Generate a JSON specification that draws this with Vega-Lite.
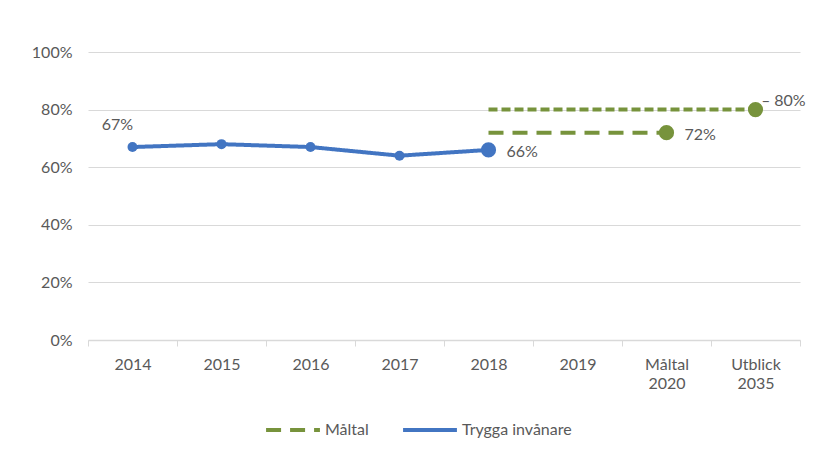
{
  "$schema": "https://vega.github.io/schema/vega-lite/v6.json",
  "width": 712,
  "height": 288,
  "autosize": {"type": "none"},
  "padding": {"left": 88, "top": 52, "right": 20, "bottom": 112},
  "background": "white",
  "config": {
    "view": {"stroke": null},
    "font": "Lato",
    "axis": {"labelFont": "Lato", "labelColor": "#595959", "labelFontSize": 16, "titleFontSize": 0},
    "legend": {"labelFont": "Lato", "labelColor": "#595959", "labelFontSize": 16}
  },
  "data": {
    "values": [
      {"cat": "2014", "value": 0.67, "serie": "Trygga invånare"},
      {"cat": "2015", "value": 0.68, "serie": "Trygga invånare"},
      {"cat": "2016", "value": 0.67, "serie": "Trygga invånare"},
      {"cat": "2017", "value": 0.64, "serie": "Trygga invånare"},
      {"cat": "2018", "value": 0.66, "serie": "Trygga invånare"},
      {"cat": "2018", "value": 0.72, "serie": "Måltal"},
      {"cat": "Måltal 2020", "value": 0.72, "serie": "Måltal"},
      {"cat": "2018", "value": 0.80, "serie": "Utblick"},
      {"cat": "Utblick 2035", "value": 0.80, "serie": "Utblick"}
    ]
  },
  "encoding": {
    "x": {
      "field": "cat", "type": "ordinal",
      "sort": ["2014", "2015", "2016", "2017", "2018", "2019", "Måltal 2020", "Utblick 2035"],
      "scale": {"domain": ["2014", "2015", "2016", "2017", "2018", "2019", "Måltal 2020", "Utblick 2035"], "paddingInner": 0, "paddingOuter": 0},
      "axis": {
        "title": null, "labelAngle": 0, "labelExpr": "split(datum.label, ' ')",
        "domainColor": "#d9d9d9", "domainWidth": 1.5, "tickColor": "#d9d9d9", "tickBand": "extent", "tickSize": 6,
        "labelPadding": 10, "labelLineHeight": 19, "grid": false
      }
    },
    "y": {
      "field": "value", "type": "quantitative",
      "scale": {"domain": [0, 1]},
      "axis": {
        "title": null, "format": ".0%", "values": [0, 0.2, 0.4, 0.6, 0.8, 1], "labelOverlap": false,
        "domain": false, "ticks": false, "gridColor": "#d9d9d9", "gridWidth": 1.2, "labelPadding": 16
      }
    }
  },
  "layer": [
    {
      "mark": {"type": "line", "strokeWidth": 4},
      "encoding": {
        "color": {
          "field": "serie", "type": "nominal",
          "scale": {"domain": ["Måltal", "Trygga invånare", "Utblick"], "range": ["#77933C", "#4275C2", "#77933C"]},
          "legend": {
            "title": null, "values": ["Måltal", "Trygga invånare"], "orient": "none", "direction": "horizontal",
            "legendX": 176, "legendY": 349, "symbolType": "stroke", "symbolSize": 2900, "symbolStrokeWidth": 4,
            "columnPadding": 26, "labelOffset": 3
          }
        },
        "strokeDash": {
          "field": "serie", "type": "nominal",
          "scale": {"domain": ["Måltal", "Trygga invånare", "Utblick"], "range": [[15, 9], [1, 0], [9, 4]]},
          "legend": {
            "title": null, "values": ["Måltal", "Trygga invånare"], "orient": "none", "direction": "horizontal",
            "legendX": 176, "legendY": 349, "symbolType": "stroke", "symbolSize": 2900, "symbolStrokeWidth": 4,
            "columnPadding": 26, "labelOffset": 3
          }
        }
      }
    },
    {
      "transform": [{"filter": "!(datum.serie != 'Trygga invånare' && datum.cat == '2018')"}],
      "mark": {"type": "circle", "opacity": 1},
      "encoding": {
        "color": {"field": "serie", "type": "nominal", "legend": null},
        "size": {
          "condition": {"test": "datum.cat == '2018' || datum.serie != 'Trygga invånare'", "value": 230},
          "value": 100
        }
      }
    },
    {
      "transform": [{"filter": "datum.cat == '2014'"}],
      "mark": {"type": "text", "dx": -15, "dy": -22, "fontSize": 16, "color": "#595959", "font": "Lato"},
      "encoding": {"text": {"field": "value", "format": ".0%"}}
    },
    {
      "transform": [{"filter": "(datum.cat == '2018' && datum.serie == 'Trygga invånare') || datum.cat == 'Måltal 2020'"}],
      "mark": {"type": "text", "dx": 18, "dy": 2, "align": "left", "fontSize": 16, "color": "#595959", "font": "Lato"},
      "encoding": {"text": {"field": "value", "format": ".0%"}}
    },
    {
      "transform": [{"filter": "datum.cat == 'Utblick 2035'"}],
      "mark": {"type": "text", "dx": 6, "dy": -9, "align": "left", "fontSize": 16, "color": "#595959", "font": "Lato"},
      "encoding": {"text": {"value": "‒ 80%"}}
    }
  ]
}
